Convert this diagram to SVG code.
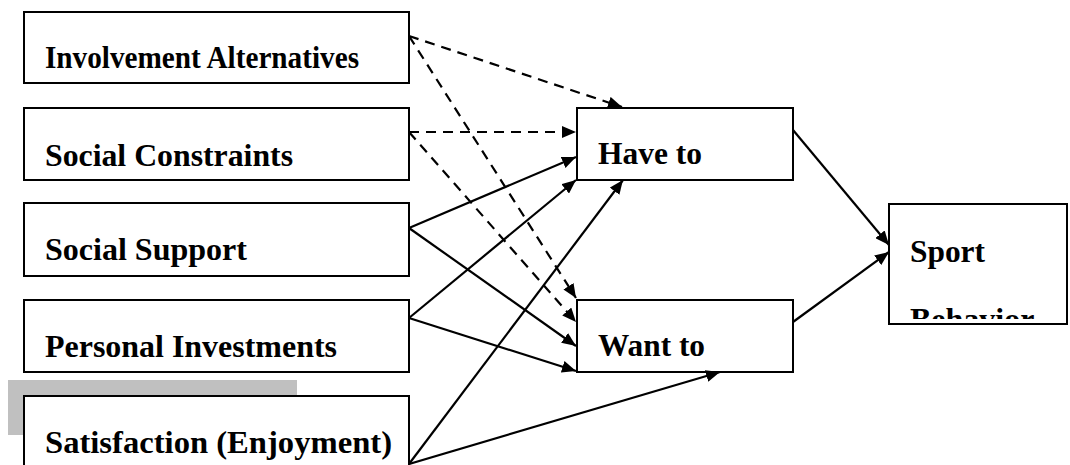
<svg xmlns="http://www.w3.org/2000/svg" width="1070" height="465" viewBox="0 0 1070 465">
  <style>
    .box { fill: #ffffff; stroke: #000000; stroke-width: 2; }
    .lbl { font-family: "Liberation Serif", "Times New Roman", serif; font-weight: bold; font-size: 32px; fill: #000000; }
    .link { fill: none; stroke: #000000; stroke-width: 2.2; marker-end: url(#head); }
    .dash { stroke-dasharray: 10 7; }
  </style>
  <defs>
    <marker id="head" viewBox="0 0 14 12" refX="14" refY="6" markerWidth="14" markerHeight="12" markerUnits="userSpaceOnUse" orient="auto">
      <path d="M0,0 L14,6 L0,12 z" fill="#000000"/>
    </marker>
    <clipPath id="sportClip">
      <rect x="890" y="205" width="177" height="114"/>
    </clipPath>
  </defs>
  <rect width="1070" height="465" fill="#ffffff"/>

  <!-- grey shading behind the last predictor -->
  <rect x="8" y="380" width="289" height="55" fill="#c0c0c0"/>

  <g id="involvement-alternatives">
    <rect class="box" x="24" y="12" width="385" height="71"/>
    <text class="lbl" x="45" y="68" textLength="314" lengthAdjust="spacingAndGlyphs">Involvement Alternatives</text>
  </g>
  <g id="social-constraints">
    <rect class="box" x="24" y="108" width="385" height="72"/>
    <text class="lbl" x="45" y="166" textLength="248" lengthAdjust="spacingAndGlyphs">Social Constraints</text>
  </g>
  <g id="social-support">
    <rect class="box" x="24" y="203" width="385" height="73"/>
    <text class="lbl" x="45" y="260" textLength="202" lengthAdjust="spacingAndGlyphs">Social Support</text>
  </g>
  <g id="personal-investments">
    <rect class="box" x="24" y="300" width="385" height="72"/>
    <text class="lbl" x="45" y="357" textLength="292" lengthAdjust="spacingAndGlyphs">Personal Investments</text>
  </g>
  <g id="satisfaction">
    <rect class="box" x="24" y="396" width="385" height="80"/>
    <text class="lbl" x="45" y="453" textLength="347" lengthAdjust="spacingAndGlyphs">Satisfaction (Enjoyment)</text>
  </g>
  <g id="have-to">
    <rect class="box" x="577" y="108" width="216" height="72"/>
    <text class="lbl" x="598" y="164" textLength="104" lengthAdjust="spacingAndGlyphs">Have to</text>
  </g>
  <g id="want-to">
    <rect class="box" x="577" y="300" width="216" height="72"/>
    <text class="lbl" x="598" y="356" textLength="107" lengthAdjust="spacingAndGlyphs">Want to</text>
  </g>
  <g id="sport-behavior">
    <rect class="box" x="889" y="204" width="178" height="120"/>
    <!-- second line overflows the frame and is cut at its inner edge -->
    <g clip-path="url(#sportClip)">
      <text class="lbl" x="910" y="262" textLength="75" lengthAdjust="spacingAndGlyphs">Sport</text>
      <text class="lbl" x="910" y="330">Behavior</text>
    </g>
  </g>

  <g id="connectors">
    <line class="link dash" x1="409" y1="36" x2="622" y2="107"/>
    <line class="link dash" x1="409" y1="36" x2="576" y2="298"/>
    <line class="link dash" x1="409" y1="132" x2="576" y2="132"/>
    <line class="link dash" x1="409" y1="132" x2="576" y2="322"/>
    <line class="link" x1="409" y1="228" x2="576" y2="157"/>
    <line class="link" x1="409" y1="228" x2="576" y2="346"/>
    <line class="link" x1="409" y1="318" x2="576" y2="180"/>
    <line class="link" x1="409" y1="318" x2="576" y2="371"/>
    <line class="link" x1="409" y1="464" x2="623" y2="180"/>
    <line class="link" x1="409" y1="464" x2="720" y2="372"/>
    <line class="link" x1="793" y1="130" x2="889" y2="245"/>
    <line class="link" x1="793" y1="322" x2="889" y2="252"/>
  </g>
</svg>
